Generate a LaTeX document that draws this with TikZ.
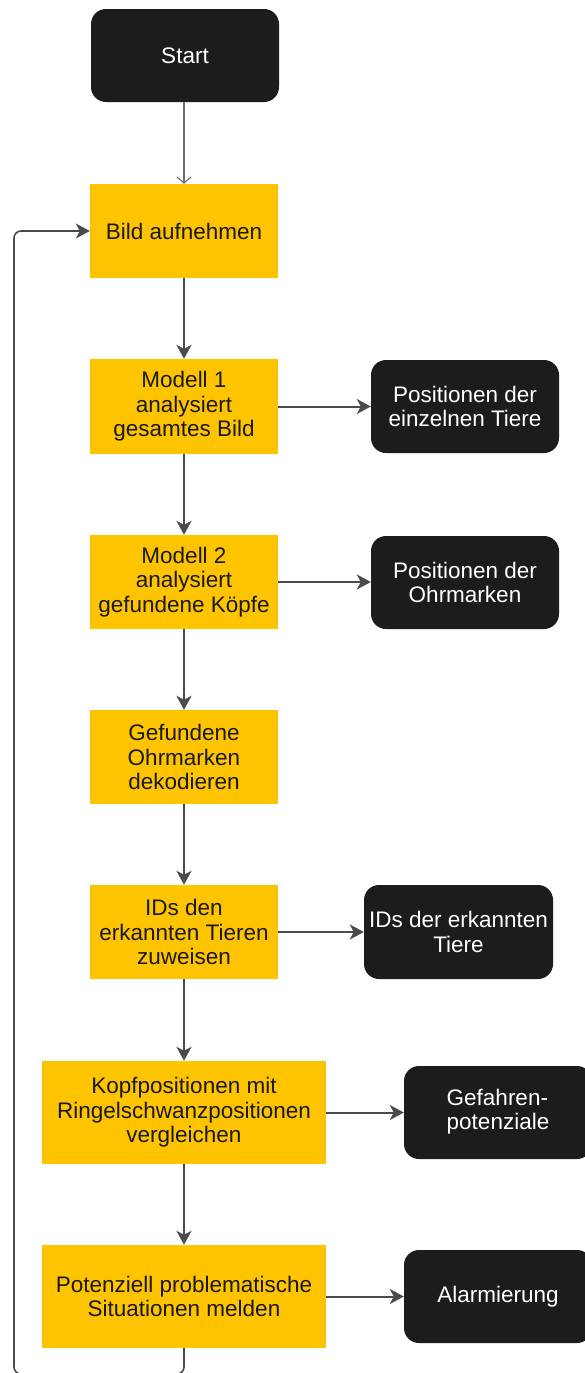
\documentclass[tikz,border=0pt]{standalone}
\usepackage{fontspec}
\setmainfont{Liberation Sans}
\usetikzlibrary{arrows.meta}
\definecolor{ybox}{RGB}{255,196,0}
\definecolor{bbox}{RGB}{28,28,28}
\definecolor{lgrey}{RGB}{75,75,75}
\tikzset{
  stepbox/.style={fill=ybox, text=black!90, align=center, inner sep=0pt, font=\fontsize{22.5}{24.5}\selectfont},
  outbox/.style={fill=bbox, rounded corners=15pt, text=white, align=center, inner sep=0pt, font=\fontsize{22.5}{24.5}\selectfont},
  flow/.style={draw=lgrey, line width=2pt, -{Stealth[length=14pt,width=15pt,inset=4pt]}},
  thinflow/.style={draw=lgrey!80, line width=1.2pt, -{Straight Barb[length=6pt,width=14pt]}},
  loopline/.style={draw=lgrey, line width=1.6pt, rounded corners=7pt, -{Stealth[length=14pt,width=15pt,inset=4pt]}}
}
\begin{document}
\begin{tikzpicture}[x=1pt,y=-1pt]
\useasboundingbox (0,0) rectangle (585,1373);
\fill[white] (0,0) rectangle (585,1373);
\clip (0,0) rectangle (585,1373);
% main column
\node[outbox, minimum width=188pt, minimum height=93pt] (start) at (185,55.5) {Start};
\node[stepbox, minimum width=188pt, minimum height=94pt] (bild) at (184,231) {Bild aufnehmen};
\node[stepbox, minimum width=188pt, minimum height=95pt] (m1) at (184,406.5) {Modell 1\\analysiert\\gesamtes Bild};
\node[stepbox, minimum width=188pt, minimum height=94pt] (m2) at (184,582) {Modell 2\\analysiert\\gefundene Köpfe};
\node[stepbox, minimum width=188pt, minimum height=94pt] (dek) at (184,757) {Gefundene\\Ohrmarken\\dekodieren};
\node[stepbox, minimum width=188pt, minimum height=94pt] (ids) at (184,932) {IDs den\\erkannten Tieren\\zuweisen};
\node[stepbox, minimum width=284pt, minimum height=103pt] (kopf) at (184,1112.5) {Kopfpositionen mit\\Ringelschwanzpositionen\\vergleichen};
\node[stepbox, minimum width=284pt, minimum height=103pt] (pot) at (184,1296.5) {Potenziell problematische\\Situationen melden};
% outputs
\node[outbox, minimum width=188pt, minimum height=93pt] (o1) at (465,406.5) {Positionen der\\einzelnen Tiere};
\node[outbox, minimum width=188pt, minimum height=93pt] (o2) at (465,582.5) {Positionen der\\Ohrmarken};
\node[outbox, minimum width=189pt, minimum height=94pt] (o3) at (458.5,932) {IDs der erkannten\\Tiere};
\node[outbox, minimum width=188pt, minimum height=93pt] (o4) at (498,1112.5) {\begin{tabular}{@{}l@{}}Gefahren-\\potenziale\end{tabular}};
\node[outbox, minimum width=188pt, minimum height=93pt] (o5) at (498,1296.5) {Alarmierung};
% connectors
\draw[thinflow] (start.south -| bild.north) -- (bild.north);
\draw[flow] (bild) -- (m1);
\draw[flow] (m1) -- (m2);
\draw[flow] (m2) -- (dek);
\draw[flow] (dek) -- (ids);
\draw[flow] (ids) -- (kopf);
\draw[flow] (kopf) -- (pot);
\draw[flow] (m1.east) -- (o1.west);
\draw[flow] (m2.east) -- (o2.west |- m2.east);
\draw[flow] (ids.east) -- (o3.west);
\draw[flow] (kopf.east) -- (o4.west |- kopf.east);
\draw[flow] (pot.east) -- (o5.west |- pot.east);
\coordinate (lb) at (184,1374);
\coordinate (ll) at (14,1374);
\draw[loopline] (pot.south) -- (lb) -- (ll) -- (14,231) -- (bild.west);
\end{tikzpicture}
\end{document}
